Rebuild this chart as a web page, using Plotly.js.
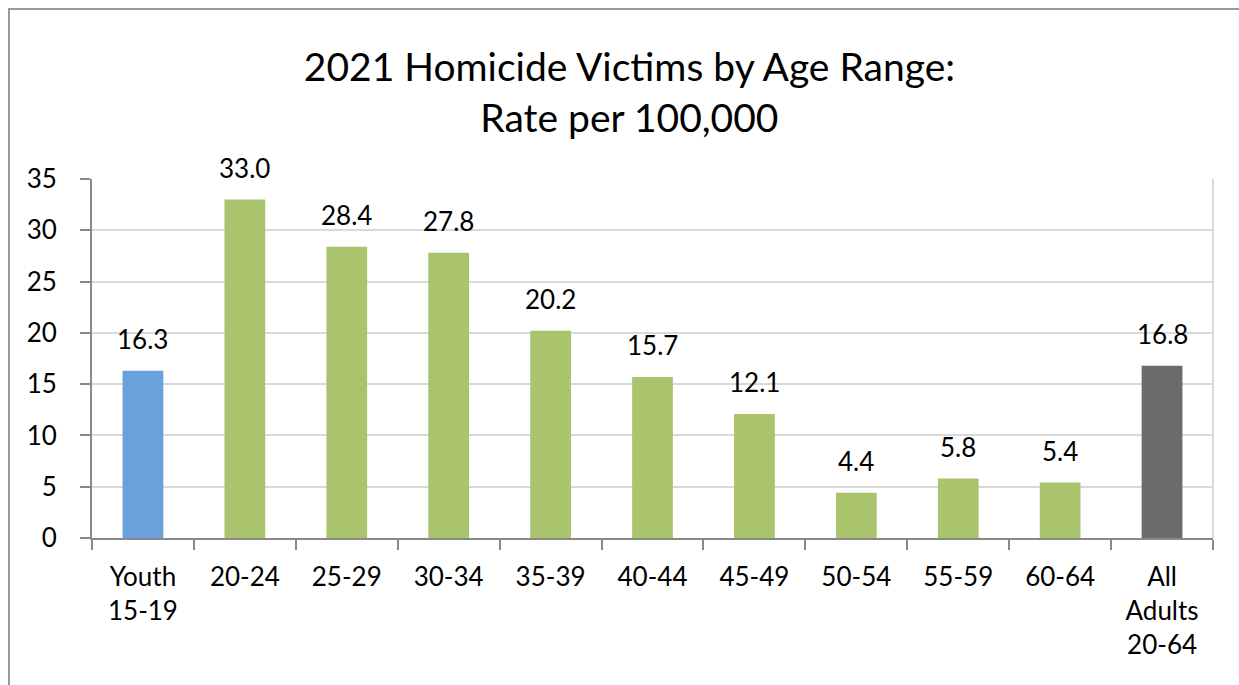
<!DOCTYPE html>
<html>
<head>
<meta charset="utf-8">
<script src="https://cdn.plot.ly/plotly-3.0.1.min.js"></script>
<style>
html,body{margin:0;padding:0;background:#fff;overflow:hidden;}
#frame{position:absolute;left:8px;top:8px;width:1400px;height:900px;border:2px solid #9a9a9a;box-sizing:border-box;}
#chart{position:absolute;left:0;top:0;width:1239px;height:685px;}
</style>
</head>
<body>
<div id="frame"></div>
<div id="chart"></div>
<script>
const categories = ["Youth<br>15-19","20-24","25-29","30-34","35-39","40-44","45-49","50-54","55-59","60-64","All<br>Adults<br>20-64"];
const rates = [16.3, 33.0, 28.4, 27.8, 20.2, 15.7, 12.1, 4.4, 5.8, 5.4, 16.8];
const barColors = ["#6aa1da","#a9c46d","#a9c46d","#a9c46d","#a9c46d","#a9c46d","#a9c46d","#a9c46d","#a9c46d","#a9c46d","#6b6b6b"];
const yTicks = [0,5,10,15,20,25,30,35];

const FONT = "Lato, 'Open Sans', sans-serif";

const trace = {
  type: "bar",
  x: categories,
  y: rates,
  marker: {color: barColors, line: {width: 0}},
  hoverinfo: "x+y"
};

const valueLabels = categories.map((c, i) => ({
  x: c, y: rates[i], xref: "x", yref: "y",
  text: rates[i].toFixed(1),
  showarrow: false,
  xanchor: "center", yanchor: "bottom",
  yshift: 14,
  font: {family: FONT, size: 26, color: "#000"}
}));

const layout = {
  width: 1239, height: 685,
  paper_bgcolor: "rgba(0,0,0,0)",
  plot_bgcolor: "rgba(0,0,0,0)",
  margin: {l: 92, r: 26, t: 179, b: 147},
  bargap: 0.6,
  showlegend: false,
  font: {family: FONT, color: "#000"},
  title: {
    text: "2021 Homicide Victims by Age Range:<br>Rate per 100,000",
    font: {family: FONT, size: 39, color: "#000"},
    x: 0.508, xanchor: "center",
    y: 0.882, yanchor: "top"
  },
  xaxis: {
    type: "category",
    tickson: "boundaries",
    ticks: "outside", ticklen: 10, tickwidth: 2, tickcolor: "#898989",
    showline: true, linecolor: "#898989", linewidth: 2,
    showgrid: false,
    tickfont: {family: FONT, size: 26, color: "#000"},
    ticklabelstandoff: 15,
    fixedrange: true
  },
  yaxis: {
    range: [0, 35],
    tickvals: yTicks,
    ticks: "outside", ticklen: 10, tickwidth: 2, tickcolor: "#898989",
    showline: true, linecolor: "#898989", linewidth: 2,
    showgrid: true, gridcolor: "#d9d9d9", gridwidth: 2,
    zeroline: false,
    tickfont: {family: FONT, size: 26, color: "#000"},
    ticklabelstandoff: 18,
    fixedrange: true
  },
  annotations: valueLabels,
  shapes: [{
    type: "line", xref: "paper", yref: "paper",
    x0: 1, x1: 1, y0: 0, y1: 1,
    line: {color: "#d9d9d9", width: 2}
  }]
};

Plotly.newPlot("chart", [trace], layout, {displayModeBar: false, staticPlot: true});
</script>
</body>
</html>
